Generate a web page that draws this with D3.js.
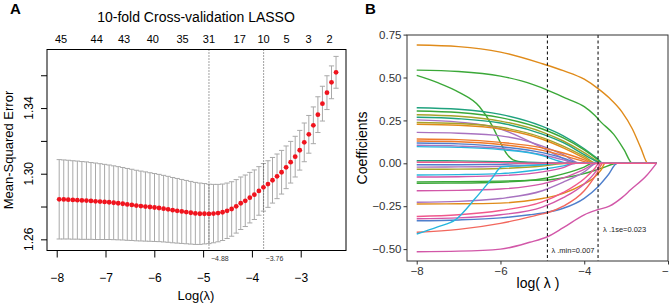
<!DOCTYPE html>
<html>
<head>
	<meta charset="utf-8">
	<title></title>
	<style>
		body { margin: 0; background: #fff; }
		text { font-family: "Liberation Sans", Arial, sans-serif; }
	</style>
</head>
<body>
	<svg id="container" width="669" height="304"></svg>
</body>
<script src="https://d3js.org/d3.v7.min.js"></script>
<script>
	// ---- panel A: cross-validation curve ----
	const cvLogLambda = [-7.949,-7.856,-7.763,-7.670,-7.577,-7.484,-7.391,-7.298,-7.205,-7.112,-7.019,-6.926,-6.833,-6.740,-6.647,-6.554,-6.461,-6.368,-6.275,-6.182,-6.089,-5.996,-5.903,-5.810,-5.717,-5.624,-5.531,-5.438,-5.345,-5.252,-5.159,-5.066,-4.973,-4.880,-4.787,-4.694,-4.601,-4.508,-4.415,-4.322,-4.229,-4.136,-4.043,-3.950,-3.857,-3.764,-3.671,-3.578,-3.485,-3.392,-3.299,-3.206,-3.113,-3.020,-2.927,-2.834,-2.741,-2.648,-2.555,-2.462,-2.369,-2.276]
	const cvMse = [1.2844,1.2843,1.2842,1.2840,1.2839,1.2837,1.2836,1.2834,1.2832,1.2830,1.2828,1.2826,1.2823,1.2820,1.2817,1.2813,1.2810,1.2806,1.2803,1.2800,1.2797,1.2794,1.2791,1.2787,1.2783,1.2778,1.2774,1.2770,1.2766,1.2762,1.2758,1.2756,1.2756,1.2755,1.2757,1.2760,1.2765,1.2774,1.2785,1.2801,1.2820,1.2835,1.2854,1.2872,1.2895,1.2917,1.2937,1.2960,1.2984,1.3009,1.3039,1.3070,1.3104,1.3143,1.3191,1.3240,1.3295,1.3360,1.3427,1.3494,1.3557,1.3618]
	const cvSe = [.0242,.0241,.0240,.0239,.0238,.0237,.0236,.0234,.0233,.0231,.0229,.0227,.0225,.0223,.0221,.0219,.0217,.0215,.0213,.0211,.0209,.0207,.0205,.0203,.0201,.0199,.0197,.0195,.0193,.0191,.0189,.0187,.0184,.0181,.0178,.0175,.0172,.0169,.0166,.0163,.0160,.0157,.0154,.0151,.0148,.0145,.0142,.0139,.0136,.0133,.0130,.0127,.0124,.0121,.0118,.0115,.0112,.0109,.0106,.0103,.0100,.0097]
	const nzCounts = ["45","44","43","40","35","31","17","10","5","3","2"]
	const nzAt = [-7.91,-7.18,-6.62,-6.03,-5.42,-4.88,-4.25,-3.76,-3.29,-2.84,-2.41]
	const cvMarks = [-4.88, -3.76]
	const cvXTicks = [-8,-7,-6,-5,-4,-3]
	const cvYTicks = [1.26,1.28,1.30,1.32,1.34,1.36]
	const cvYLabels = [1.26,1.30,1.34]

	// ---- panel B: coefficient paths ----
	const pathColors = ["#E08B1A","#3BA838","#3BA838","#1FA27E","#3BA838","#A6A32A","#1FA27E","#A872C0","#A6A32A","#E08B1A","#A872C0","#EE7A2C","#EE7A2C","#4F7FCC","#A872C0","#26B6DE","#1FA27E","#4F7FCC","#A872C0","#A6A32A","#26B6DE","#D257A8","#3BA838","#3BA838","#D257A8","#A872C0","#E08B1A","#F0588C","#D257A8","#4F7FCC","#F2675D","#26B6DE","#D257A8","#F0588C"]
	const pathKnots = [
		[[-8,.689],[-7,.680],[-6,.648],[-5,.58],[-4.5,.54],[-4,.49],[-3.67,.435],[-3.4,.38],[-3.1,.30],[-2.85,.2],[-2.65,.09],[-2.48,0]],
		[[-8,.543],[-7,.535],[-6,.508],[-5.5,.48],[-4.88,.427],[-4.4,.375],[-4,.33],[-3.75,.28],[-3.6,.24],[-3.3,.17],[-3.05,.08],[-2.85,0]],
		[[-8,.512],[-7.5,.47],[-7,.415],[-6.5,.33],[-6.2,.22],[-6,.12],[-5.85,.055],[-5.7,.02],[-5.4,.005],[-5,0]],
		[[-8,.324],[-7,.315],[-6,.285],[-5,.215],[-4.5,.16],[-4,.085],[-3.7,.03],[-3.55,0]],
		[[-8,.305],[-7,.296],[-6,.266],[-5,.2],[-4.5,.148],[-4,.078],[-3.7,.025],[-3.58,0]],
		[[-8,.283],[-7,.274],[-6,.246],[-5,.182],[-4.5,.13],[-4,.062],[-3.7,.015],[-3.6,0]],
		[[-8,.268],[-7,.26],[-6,.235],[-5,.17],[-4.5,.12],[-4,.05],[-3.7,.01],[-3.62,0]],
		[[-8,.253],[-7,.24],[-6,.2],[-5.5,.15],[-5,.09],[-4.6,.04],[-4.2,0]],
		[[-8,.238],[-7,.232],[-6,.21],[-5,.15],[-4.5,.1],[-4,.04],[-3.7,0]],
		[[-8,.228],[-7,.222],[-6,.2],[-5,.14],[-4.5,.09],[-4,.03],[-3.75,0]],
		[[-8,.18],[-7,.175],[-6,.16],[-5.5,.138],[-5,.1],[-4.5,.05],[-4.1,0]],
		[[-8,.142],[-7,.138],[-6,.122],[-5,.09],[-4.5,.06],[-4,.02],[-3.8,0]],
		[[-8,.13],[-7,.126],[-6,.11],[-5,.075],[-4.5,.045],[-4,.01],[-3.85,0]],
		[[-8,.118],[-7,.113],[-6,.097],[-5,.062],[-4.5,.03],[-4.1,0]],
		[[-8,.105],[-7,.1],[-6,.086],[-5,.05],[-4.5,.02],[-4.2,0]],
		[[-8,.097],[-7,.093],[-6,.08],[-5,.045],[-4.6,.012],[-4.4,0]],
		[[-8,.015],[-7,.014],[-6,.01],[-5,.004],[-4.6,0]],
		[[-8,-.008],[-7,-.008],[-6,-.006],[-5.3,0]],
		[[-8,-.022],[-7,-.021],[-6,-.017],[-5,-.007],[-4.6,0]],
		[[-8,-.035],[-7,-.034],[-6,-.03],[-5,-.016],[-4.4,0]],
		[[-8,-.068],[-7,-.066],[-6,-.06],[-5,-.035],[-4.5,-.015],[-4.2,0]],
		[[-8,-.08],[-7,-.078],[-6,-.072],[-5,-.05],[-4.5,-.025],[-4.2,0]],
		[[-8,-.108],[-7,-.107],[-6,-.104],[-5,-.098],[-4.88,-.097],[-4.5,-.085],[-4,-.06],[-3.6,-.03],[-3.2,0]],
		[[-8,-.116],[-7,-.115],[-6,-.11],[-5,-.09],[-4.5,-.062],[-4,-.022],[-3.8,0]],
		[[-8,-.16],[-7,-.158],[-6,-.15],[-5,-.12],[-4.5,-.085],[-4,-.035],[-3.7,0]],
		[[-8,-.227],[-7,-.222],[-6,-.205],[-5,-.16],[-4.5,-.11],[-4,-.05],[-3.7,0]],
		[[-8,-.237],[-7,-.236],[-6,-.232],[-5,-.205],[-4.88,-.2],[-4.5,-.175],[-4,-.12],[-3.8,-.09],[-3.6,-.04],[-3.5,0]],
		[[-8,-.31],[-7,-.30],[-6,-.275],[-5,-.225],[-4.5,-.17],[-4,-.09],[-3.75,-.03],[-3.65,0]],
		[[-8,-.323],[-7,-.318],[-6,-.30],[-5,-.255],[-4.5,-.2],[-4,-.12],[-3.7,-.04],[-3.6,0]],
		[[-8,-.335],[-7,-.33],[-6,-.318],[-5.3,-.30],[-4.88,-.285],[-4.5,-.262],[-4,-.204],[-3.67,-.136],[-3.43,-.068],[-3.21,0]],
		[[-8,-.402],[-7,-.385],[-6,-.35],[-5,-.295],[-4.88,-.288],[-4.5,-.25],[-4,-.16],[-3.7,-.06],[-3.55,0]],
		[[-8,-.412],[-7.5,-.37],[-7.08,-.33],[-6.6,-.204],[-6.2,-.087],[-5.97,-.02],[-5.5,-.015],[-5,-.008],[-4.6,0]],
		[[-8,-.515],[-7,-.512],[-6,-.50],[-5.3,-.46],[-4.88,-.428],[-4.5,-.375],[-4,-.30],[-3.7,-.272],[-3.4,-.25],[-3.1,-.2],[-2.9,-.156],[-2.5,-.068],[-2.276,0]],
		[[-8,.006],[-7,.006],[-6,.004],[-5.2,0]]
	]
	const pathEnd = -2.276
	const coefMarks = [-4.88, -3.67]
	const coefXTicks = [-8,-6,-4,-2]
	const coefYTicks = [-0.5,-0.25,0,0.25,0.5,0.75]

	let svg = d3.select("#container")
	const minus = s => s.replace("-", "\u2212")

	// ================= panel A =================
	let xA = d3.scaleLinear().domain([-8.199, -2.072]).range([47, 346])
	let yA = d3.scaleLinear().domain([1.2532, 1.3757]).range([250.5, 49.5])
	let gA = svg.append("g")

	gA.append("text").text("A")
		.attr("x", 10).attr("y", 14)
		.attr("font-size", 15).attr("font-weight", "bold")

	gA.append("text").text("10-fold Cross-validation LASSO")
		.attr("x", 196).attr("y", 22)
		.attr("text-anchor", "middle").attr("font-size", 14)

	gA.selectAll(".nz").data(nzCounts).enter().append("text")
		.attr("x", (d, i) => xA(nzAt[i]))
		.attr("y", 43)
		.attr("text-anchor", "middle").attr("font-size", 11)
		.text(d => d)

	// error bars
	let cvData = cvLogLambda.map((l, i) => ({l: l, m: cvMse[i], se: cvSe[i]}))
	let bars = gA.append("g").attr("stroke", "#A9A9A9").attr("stroke-width", 1)
	bars.selectAll(".v").data(cvData).enter().append("line")
		.attr("x1", d => xA(d.l)).attr("x2", d => xA(d.l))
		.attr("y1", d => yA(d.m + d.se)).attr("y2", d => yA(d.m - d.se))
	bars.selectAll(".t").data(cvData).enter().append("line")
		.attr("x1", d => xA(d.l) - 2.6).attr("x2", d => xA(d.l) + 2.6)
		.attr("y1", d => yA(d.m + d.se)).attr("y2", d => yA(d.m + d.se))
	bars.selectAll(".b").data(cvData).enter().append("line")
		.attr("x1", d => xA(d.l) - 2.6).attr("x2", d => xA(d.l) + 2.6)
		.attr("y1", d => yA(d.m - d.se)).attr("y2", d => yA(d.m - d.se))

	// lambda.min / lambda.1se
	gA.selectAll(".mk").data(cvMarks).enter().append("line")
		.attr("x1", d => xA(d)).attr("x2", d => xA(d))
		.attr("y1", 49.5).attr("y2", 250.5)
		.attr("stroke", "#444").attr("stroke-dasharray", "1,2")

	gA.selectAll(".pt").data(cvData).enter().append("circle")
		.attr("cx", d => xA(d.l)).attr("cy", d => yA(d.m))
		.attr("r", 2.4).attr("fill", "#F0141E")

	gA.append("rect")
		.attr("x", 47).attr("y", 49.5).attr("width", 299).attr("height", 201)
		.attr("fill", "none").attr("stroke", "#000")

	gA.selectAll(".mkl").data(cvMarks).enter().append("text")
		.attr("x", d => xA(d) + 2).attr("y", 261)
		.attr("font-size", 7).attr("fill", "#333")
		.text(d => minus(d.toFixed(2)))

	let axA = gA.append("g").attr("transform", "translate(0,250.5)")
		.call(d3.axisBottom(xA).tickValues(cvXTicks).tickSize(7).tickSizeOuter(0).tickFormat(d => minus(String(d))))
	axA.select(".domain").attr("d", `M${xA(-8)},0H${xA(-3)}`)
	axA.selectAll("text").attr("font-size", 12).attr("dy", 0).attr("y", 31).attr("font-family", null)

	let ayA = gA.append("g").attr("transform", "translate(47,0)")
		.call(d3.axisLeft(yA).tickValues(cvYTicks).tickSize(6).tickFormat(""))
	ayA.select(".domain").remove()
	gA.selectAll(".yl").data(cvYLabels).enter().append("text")
		.attr("transform", d => `translate(33,${yA(d)}) rotate(-90)`)
		.attr("text-anchor", "middle").attr("font-size", 12)
		.text(d => d.toFixed(2))

	gA.append("text").text("Log(\u03bb)")
		.attr("x", 196).attr("y", 300)
		.attr("text-anchor", "middle").attr("font-size", 13)
	gA.append("text").text("Mean-Squared Error")
		.attr("transform", "translate(13,150) rotate(-90)")
		.attr("text-anchor", "middle").attr("font-size", 13)

	// ================= panel B =================
	let xB = d3.scaleLinear().domain([-8.232, -2.0]).range([407, 668])
	let yB = d3.scaleLinear().domain([-0.5693, 0.7477]).range([261, 35])
	let gB = svg.append("g")

	gB.append("text").text("B")
		.attr("x", 365).attr("y", 14)
		.attr("font-size", 15).attr("font-weight", "bold")

	let line = d3.line()
		.x(d => xB(d[0])).y(d => yB(d[1]))
		.curve(d3.curveMonotoneX)

	gB.append("g").selectAll("path").data(pathKnots).enter().append("path")
		.attr("d", d => line(d[d.length - 1][0] < pathEnd ? d.concat([[pathEnd, 0]]) : d))
		.attr("fill", "none")
		.attr("stroke", (d, i) => pathColors[i])
		.attr("stroke-width", 1.4)

	gB.selectAll(".mk").data(coefMarks).enter().append("line")
		.attr("x1", d => xB(d)).attr("x2", d => xB(d))
		.attr("y1", 35).attr("y2", 261)
		.attr("stroke", "#000").attr("stroke-dasharray", "3,2.5")

	gB.append("text").text("\u03bb .min=0.007")
		.attr("x", xB(coefMarks[0]) + 4).attr("y", 253)
		.attr("font-size", 7.5).attr("fill", "#222")
	gB.append("text").text("\u03bb .1se=0.023")
		.attr("x", xB(coefMarks[1]) + 5).attr("y", 232)
		.attr("font-size", 7.5).attr("fill", "#222")

	gB.append("rect")
		.attr("x", 407).attr("y", 35).attr("width", 261).attr("height", 226)
		.attr("fill", "none").attr("stroke", "#333")

	let axB = gB.append("g").attr("transform", "translate(0,261)")
		.call(d3.axisBottom(xB).tickValues(coefXTicks).tickSize(3.5).tickPadding(2).tickFormat(d => minus(String(d))))
	axB.select(".domain").remove()
	axB.selectAll("line").attr("stroke", "#333")
	axB.selectAll("text").attr("font-size", 11.5).attr("fill", "#333").attr("font-family", null)

	let ayB = gB.append("g").attr("transform", "translate(407,0)")
		.call(d3.axisLeft(yB).tickValues(coefYTicks).tickSize(3.5).tickPadding(2).tickFormat(d => minus(d3.format(".2f")(d))))
	ayB.select(".domain").remove()
	ayB.selectAll("line").attr("stroke", "#333")
	ayB.selectAll("text").attr("font-size", 11.5).attr("fill", "#333").attr("font-family", null)

	gB.append("text").text("log( \u03bb )")
		.attr("x", 538).attr("y", 288)
		.attr("text-anchor", "middle").attr("font-size", 14)
	gB.append("text").text("Coefficients")
		.attr("transform", "translate(367,148) rotate(-90)")
		.attr("text-anchor", "middle").attr("font-size", 14)
</script>
</html>
